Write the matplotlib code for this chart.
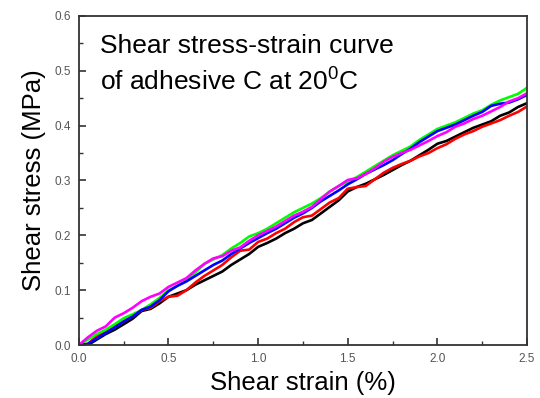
import matplotlib
matplotlib.use("Agg")
import matplotlib.pyplot as plt
from matplotlib.ticker import MultipleLocator

# Shear stress (MPa) vs shear strain (%) for five specimens
strain = [0.00, 0.05, 0.10, 0.15, 0.20, 0.25, 0.30, 0.35, 0.40, 0.45,
          0.50, 0.55, 0.60, 0.65, 0.70, 0.75, 0.80, 0.85, 0.90, 0.95,
          1.00, 1.05, 1.10, 1.15, 1.20, 1.25, 1.30, 1.35, 1.40, 1.45,
          1.50, 1.55, 1.60, 1.65, 1.70, 1.75, 1.80, 1.85, 1.90, 1.95,
          2.00, 2.05, 2.10, 2.15, 2.20, 2.25, 2.30, 2.35, 2.40, 2.45,
          2.50]

black = [0.000, 0.000, 0.010, 0.020, 0.028, 0.038, 0.048, 0.062, 0.066, 0.076,
         0.088, 0.094, 0.100, 0.110, 0.118, 0.126, 0.134, 0.146, 0.156, 0.166,
         0.179, 0.186, 0.194, 0.204, 0.212, 0.222, 0.228, 0.240, 0.252, 0.264,
         0.280, 0.288, 0.294, 0.302, 0.310, 0.319, 0.328, 0.336, 0.346, 0.356,
         0.367, 0.372, 0.380, 0.388, 0.396, 0.402, 0.408, 0.418, 0.424, 0.434,
         0.441]

red = [0.000, 0.002, 0.016, 0.026, 0.034, 0.043, 0.052, 0.064, 0.068, 0.080,
       0.088, 0.090, 0.100, 0.114, 0.126, 0.136, 0.146, 0.160, 0.172, 0.174,
       0.188, 0.194, 0.204, 0.212, 0.224, 0.233, 0.236, 0.248, 0.260, 0.268,
       0.285, 0.288, 0.290, 0.302, 0.314, 0.323, 0.330, 0.336, 0.344, 0.350,
       0.359, 0.366, 0.376, 0.384, 0.390, 0.398, 0.404, 0.410, 0.418, 0.425,
       0.435]

green = [0.000, 0.010, 0.020, 0.028, 0.038, 0.049, 0.056, 0.064, 0.074, 0.086,
         0.100, 0.108, 0.118, 0.132, 0.148, 0.156, 0.164, 0.176, 0.186, 0.198,
         0.204, 0.212, 0.222, 0.232, 0.242, 0.250, 0.258, 0.268, 0.280, 0.290,
         0.298, 0.306, 0.316, 0.326, 0.336, 0.346, 0.354, 0.362, 0.374, 0.384,
         0.394, 0.400, 0.406, 0.414, 0.422, 0.428, 0.438, 0.446, 0.452, 0.458,
         0.469]

blue = [0.000, 0.002, 0.012, 0.022, 0.032, 0.043, 0.052, 0.064, 0.070, 0.082,
        0.098, 0.108, 0.116, 0.126, 0.136, 0.146, 0.154, 0.166, 0.176, 0.186,
        0.195, 0.204, 0.212, 0.222, 0.232, 0.240, 0.250, 0.262, 0.272, 0.282,
        0.293, 0.302, 0.312, 0.320, 0.328, 0.337, 0.348, 0.358, 0.370, 0.380,
        0.390, 0.396, 0.402, 0.410, 0.418, 0.425, 0.436, 0.440, 0.442, 0.448,
        0.456]

magenta = [0.000, 0.014, 0.026, 0.034, 0.050, 0.058, 0.068, 0.080, 0.088, 0.094,
           0.106, 0.114, 0.122, 0.136, 0.148, 0.158, 0.162, 0.172, 0.178, 0.190,
           0.200, 0.208, 0.216, 0.226, 0.236, 0.243, 0.252, 0.266, 0.280, 0.290,
           0.301, 0.304, 0.312, 0.322, 0.334, 0.343, 0.350, 0.356, 0.364, 0.372,
           0.381, 0.388, 0.398, 0.404, 0.412, 0.418, 0.426, 0.434, 0.444, 0.450,
           0.459]

series = [
    (black, "#000000"),
    (red, "#ff0000"),
    (green, "#00ff00"),
    (blue, "#0000ff"),
    (magenta, "#ff00ff"),
]

_AXIS = "#333333"
_TICK_TEXT = "#555555"

plt.rcParams.update({
    "font.family": ["Liberation Sans", "DejaVu Sans"],
    "xtick.direction": "in",
    "ytick.direction": "in",
})

fig = plt.figure(figsize=(5.40, 3.98), dpi=100)
ax = fig.add_axes([0.146, 0.133, 0.830, 0.827])

for values, color in series:
    ax.plot(strain, values, color=color, linewidth=1.9)

ax.set_xlim(0, 2.5)
ax.set_ylim(0, 0.6)
ax.xaxis.set_major_locator(MultipleLocator(0.5))
ax.xaxis.set_minor_locator(MultipleLocator(0.25))
ax.yaxis.set_major_locator(MultipleLocator(0.1))
ax.yaxis.set_minor_locator(MultipleLocator(0.05))
ax.xaxis.set_major_formatter(plt.FormatStrFormatter("%.1f"))
ax.yaxis.set_major_formatter(plt.FormatStrFormatter("%.1f"))

for spine in ax.spines.values():
    spine.set_color(_AXIS)
    spine.set_linewidth(1.3)
ax.tick_params(which="major", length=5, width=1.2, color=_AXIS,
               labelsize=8.5, labelcolor=_TICK_TEXT, pad=6)
ax.tick_params(which="minor", length=3, width=1.0, color=_AXIS)

ax.set_xlabel("Shear strain (%)", fontsize=18.5, labelpad=4)
ax.set_ylabel("Shear stress (MPa)", fontsize=18.5, labelpad=6)

ax.text(0.047, 0.888, "Shear stress-strain curve", transform=ax.transAxes,
        fontsize=19, va="baseline", ha="left")
ax.text(0.047, 0.775, "of adhesive C at 20$^\\mathregular{0}$C", transform=ax.transAxes,
        fontsize=19, va="baseline", ha="left")

fig.savefig("out.png", dpi=100)
